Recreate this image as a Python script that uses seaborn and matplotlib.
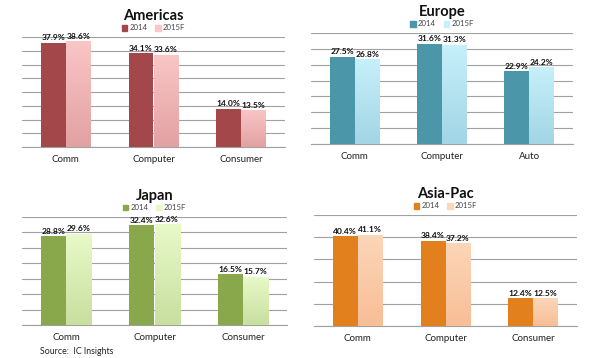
import numpy as np
import pandas as pd
import matplotlib
matplotlib.use("Agg")
import matplotlib.pyplot as plt
import seaborn as sns
from matplotlib.colors import LinearSegmentedColormap

sns.set_theme(style="white")
plt.rcParams['font.family'] = ['Lato', 'DejaVu Sans']

series = ["2014", "2015F"]

americas_cats = ["Comm", "Computer", "Consumer"]
americas_2014 = [37.9, 34.1, 14.0]
americas_2015 = [38.6, 33.6, 13.5]

europe_cats = ["Comm", "Computer", "Auto"]
europe_2014 = [27.5, 31.6, 22.9]
europe_2015 = [26.8, 31.3, 24.2]

japan_cats = ["Comm", "Computer", "Consumer"]
japan_2014 = [28.8, 32.4, 16.5]
japan_2015 = [29.6, 32.6, 15.7]

asia_cats = ["Comm", "Computer", "Consumer"]
asia_2014 = [40.4, 38.4, 12.4]
asia_2015 = [41.1, 37.2, 12.5]

panels = [
    dict(title="Americas", cats=americas_cats, v1=americas_2014, v2=americas_2015,
         c1="#A4474A", c2top="#FAC6C6", c2bot="#E2A1A2", ymax=40, step=5,
         rect=[22/600, 1-147/358, 263/600, 110/358]),
    dict(title="Europe", cats=europe_cats, v1=europe_2014, v2=europe_2015,
         c1="#4B96A9", c2top="#C6F0FA", c2bot="#A2D5E5", ymax=35, step=5,
         rect=[311/600, 1-144/358, 262/600, 111/358]),
    dict(title="Japan", cats=japan_cats, v1=japan_2014, v2=japan_2015,
         c1="#89A84B", c2top="#E8FAC8", c2bot="#C8DF9F", ymax=35, step=5,
         rect=[22/600, 1-325/358, 265/600, 108/358]),
    dict(title="Asia-Pac", cats=asia_cats, v1=asia_2014, v2=asia_2015,
         c1="#E2801D", c2top="#FCD6B8", c2bot="#F8BE96", ymax=50, step=10,
         rect=[314/600, 1-326/358, 263/600, 111/358]),
]

fig = plt.figure(figsize=(6, 3.58), dpi=100)

for p in panels:
    ax = fig.add_axes(p["rect"])
    df = pd.DataFrame({
        "cat": p["cats"] * 2,
        "val": list(p["v1"]) + list(p["v2"]),
        "series": [series[0]] * 3 + [series[1]] * 3,
    })
    sns.barplot(data=df, x="cat", y="val", hue="series", ax=ax,
                palette=[p["c1"], p["c2top"]], width=0.57, gap=0,
                saturation=1, edgecolor="none", linewidth=0, legend=False, zorder=3)
    ax.set_ylim(0, p["ymax"])
    ax.set_xlim(-0.5, 2.5)
    ax.set_yticks(np.arange(0, p["ymax"] + 0.1, p["step"]))
    ax.yaxis.grid(True, color="#A0A0A0", linewidth=0.8, zorder=0)
    ax.set_axisbelow(True)
    ax.tick_params(axis="y", left=False, labelleft=False)
    for s in ["top", "right", "left"]:
        ax.spines[s].set_visible(False)
    ax.spines["bottom"].set_color("#A0A0A0")
    ax.spines["bottom"].set_linewidth(0.8)
    ax.set_xlabel("")
    ax.set_ylabel("")
    ax.set_xticks([0, 1, 2])
    ax.set_xticklabels(p["cats"], fontsize=7, color="#222222")
    ax.tick_params(axis="x", length=0, pad=6)
    ax.set_xticks([-0.5, 0.5, 1.5, 2.5], minor=True)
    ax.tick_params(axis="x", which="minor", length=3, color="#A0A0A0", width=0.8, direction="out")

    # gradient for 2015F bars
    cmap = LinearSegmentedColormap.from_list("g", [p["c2bot"], p["c2top"]])
    bars = ax.patches
    n = len(p["cats"])
    for bar in bars[n:2 * n]:
        x0, y0 = bar.get_x(), bar.get_y()
        w, h = bar.get_width(), bar.get_height()
        grad = np.linspace(0, 1, 100).reshape(-1, 1)
        im = ax.imshow(grad, cmap=cmap, origin="lower", aspect="auto",
                       extent=[x0, x0 + w, y0, y0 + h], zorder=3.5)
        im.set_clip_path(bar)
    ax.set_xlim(-0.5, 2.5)
    ax.set_ylim(0, p["ymax"])

    for bar, v in zip(bars[:2 * n], list(p["v1"]) + list(p["v2"])):
        ax.text(bar.get_x() + bar.get_width() / 2, bar.get_height() + p["ymax"] * 0.012,
                f"{v:.1f}%", ha="center", va="bottom", fontsize=6.1,
                fontweight="bold", color="#111111", zorder=5)

    # title and legend
    ax.text(0.5, 1.0 + 21 / (p["rect"][3] * 358), p["title"], transform=ax.transAxes,
            ha="center", va="center", fontsize=10.5, fontweight="bold", color="#111111")
    handles = [plt.Rectangle((0, 0), 1, 1, color=p["c1"]),
               plt.Rectangle((0, 0), 1, 1, color=p["c2top"])]
    ax.legend(handles, series, loc="center", bbox_to_anchor=(0.5, 1.0 + 9 / (p["rect"][3] * 358)),
              ncol=2, frameon=False, fontsize=5.6, handlelength=0.7, handleheight=0.7,
              handletextpad=0.3, columnspacing=1.0, borderpad=0,
              labelcolor="#444444")

fig.text(40/600, 1 - 352/358, "Source:  IC Insights", fontsize=6.3, color="#222222",
         ha="left", va="center")

fig.savefig("out.png", dpi=100)
